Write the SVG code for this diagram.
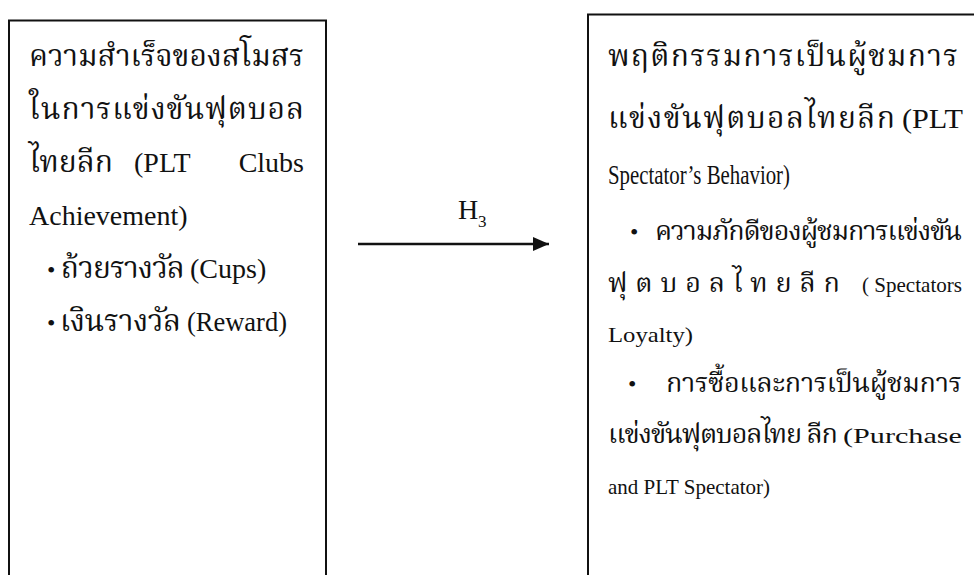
<svg xmlns="http://www.w3.org/2000/svg" width="974" height="575" viewBox="0 0 974 575">
<style>
.box{fill:none;stroke:#111;stroke-width:2}
.th{font-family:'Liberation Serif','Noto Serif Thai','Noto Sans Thai',serif;font-size:30px;fill:#111}
.th2{font-family:'Liberation Serif','Noto Serif Thai','Noto Sans Thai',serif;font-size:27px;fill:#111}
.en{font-family:'Liberation Serif',serif;font-size:28px;fill:#111}
.ens{font-family:'Liberation Serif',serif;font-size:22px;fill:#111}
.bul{font-family:'Liberation Serif',serif;font-size:24px;fill:#111}
.lbl{font-family:'Liberation Serif',serif;font-size:28px;fill:#111}
.sub{font-family:'Liberation Serif',serif;font-size:17px;fill:#111}
</style>
<defs>
<marker id="ah" viewBox="0 0 16 14" refX="16" refY="7" markerWidth="16" markerHeight="14" markerUnits="userSpaceOnUse" orient="auto">
<path d="M0,0 L16,7 L0,14 Z" fill="#111"/>
</marker>
</defs>
<rect width="974" height="575" fill="#fff"/>
<g id="clubs-achievement">
<rect class="box" x="9" y="20.5" width="317" height="600"/>
<text class="th" x="29" y="66" textLength="275" lengthAdjust="spacing">ความสำเร็จของสโมสร</text>
<text class="th" x="29" y="119" textLength="275" lengthAdjust="spacing">ในการแข่งขันฟุตบอล</text>
<text class="th" x="29" y="172">ไทยลีก</text>
<text class="en" x="134" y="172">(PLT</text>
<text class="en" x="304" y="172" text-anchor="end">Clubs</text>
<text class="en" x="29" y="225">Achievement)</text>
<text class="bul" x="47" y="278">•</text>
<text class="th" x="60" y="278" textLength="124" lengthAdjust="spacing">ถ้วยรางวัล</text>
<text class="en" x="190" y="278">(Cups)</text>
<text class="bul" x="47" y="331">•</text>
<text class="th" x="60" y="331" textLength="121" lengthAdjust="spacing">เงินรางวัล</text>
<text class="en" x="187" y="331" textLength="100" lengthAdjust="spacingAndGlyphs">(Reward)</text>
</g>
<g id="spectator-behavior">
<rect class="box" x="588" y="14.5" width="400" height="600"/>
<text class="th" x="608" y="66" textLength="350" lengthAdjust="spacing">พฤติกรรมการเป็นผู้ชมการ</text>
<text class="th" x="608" y="128" textLength="287" lengthAdjust="spacing">แข่งขันฟุตบอลไทยลีก</text>
<text class="en" x="902" y="128" textLength="61" lengthAdjust="spacingAndGlyphs">(PLT</text>
<text class="en" x="608" y="184" textLength="182" lengthAdjust="spacingAndGlyphs">Spectator’s Behavior)</text>
<text class="bul" x="630" y="240">•</text>
<text class="th2" x="655" y="240" textLength="307" lengthAdjust="spacing">ความภักดีของผู้ชมการแข่งขัน</text>
<text class="th2" x="608" y="292" textLength="232" lengthAdjust="spacing">ฟุตบอลไทยลีก</text>
<text class="ens" x="862" y="292" textLength="100" lengthAdjust="spacingAndGlyphs">( Spectators</text>
<text class="ens" x="608" y="342" textLength="85" lengthAdjust="spacingAndGlyphs">Loyalty)</text>
<text class="bul" x="628" y="392">•</text>
<text class="th2" x="666" y="392" textLength="296" lengthAdjust="spacing">การซื้อและการเป็นผู้ชมการ</text>
<text class="th2" x="608" y="443" textLength="230" lengthAdjust="spacing">แข่งขันฟุตบอลไทย ลีก</text>
<text class="ens" x="843" y="443" textLength="119" lengthAdjust="spacingAndGlyphs">(Purchase</text>
<text class="ens" x="608" y="494" textLength="162" lengthAdjust="spacingAndGlyphs">and PLT Spectator)</text>
</g>
<g id="connectors">
<line x1="358" y1="244" x2="549" y2="244" stroke="#111" stroke-width="2.5" marker-end="url(#ah)"/>
<text class="lbl" x="458" y="219">H</text>
<text class="sub" x="478" y="227">3</text>
</g>
</svg>
